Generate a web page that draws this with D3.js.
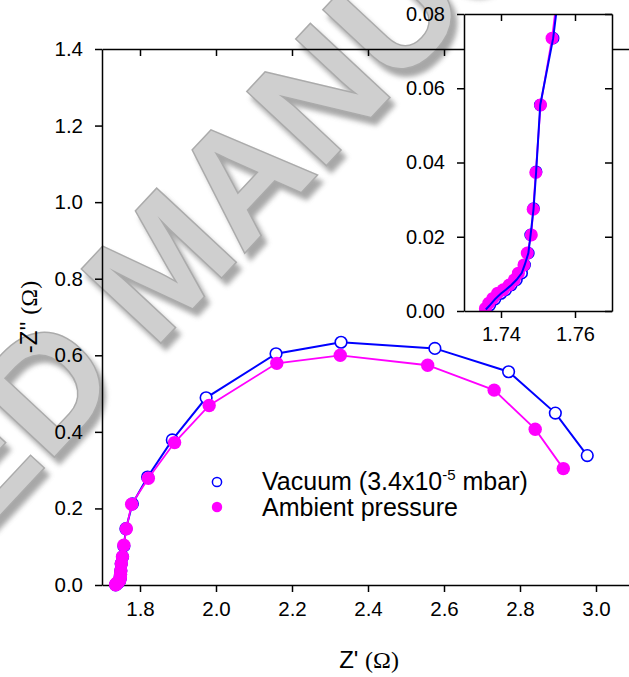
<!DOCTYPE html>
<html><head><meta charset="utf-8">
<script src="https://cdn.jsdelivr.net/npm/d3@7"></script>
<style>
body{margin:0;background:#fff}
svg{display:block}
text{font-family:Arial,"Liberation Sans",sans-serif}
</style>
</head><body>
<svg id="c" width="629" height="677"></svg>
<script>
// ---- data ----
const vacZre = [1.7359,1.7370,1.7384,1.7400,1.7413,1.7428,1.7442,1.7456,1.7464,1.7474,1.7480,1.7488,1.7495,1.7506,1.7541,1.7576,1.763,1.780,1.820,1.885,1.974,2.158,2.329,2.576,2.770,2.893,2.977];
const vacZim = [0.0004,0.0016,0.0032,0.0047,0.0057,0.0070,0.0084,0.0102,0.0124,0.0156,0.0205,0.0276,0.0375,0.0555,0.0735,0.102,0.147,0.212,0.282,0.379,0.489,0.604,0.634,0.618,0.557,0.449,0.338];
const ambZre = [1.7358,1.7367,1.7378,1.7391,1.7406,1.7422,1.7436,1.7447,1.7462,1.7471,1.7482,1.7487,1.7494,1.7507,1.7538,1.7575,1.764,1.778,1.822,1.891,1.982,2.160,2.327,2.557,2.732,2.840,2.914];
const ambZim = [0.0007,0.0021,0.0034,0.0048,0.0057,0.0070,0.0084,0.0102,0.0124,0.0156,0.0205,0.0274,0.0373,0.0555,0.0735,0.104,0.147,0.211,0.279,0.372,0.469,0.579,0.600,0.574,0.509,0.407,0.304];
const mainXTicks = [1.8,2.0,2.2,2.4,2.6,2.8,3.0];
const mainYTicks = [0.0,0.2,0.4,0.6,0.8,1.0,1.2,1.4];
const insetXTicks = [1.74,1.76];
const insetYTicks = [0.00,0.02,0.04,0.06,0.08];
const seriesNames = ["Vacuum (3.4x10", "-5", " mbar)", "Ambient pressure"];
const watermark = "ACCEPTED MANUSCRIPT";

const BLUE = "#0000ff", MAG = "#ff00ff";
const vac = vacZre.map((x,i)=>({x, y:vacZim[i]}));
const amb = ambZre.map((x,i)=>({x, y:ambZim[i]}));

const svg = d3.select("#c");

// watermark (behind everything)
const defs = svg.append("defs");
defs.append("filter").attr("id","blur").append("feGaussianBlur").attr("stdDeviation",2.5);
svg.append("text").text(watermark)
  .attr("transform","translate(206,306) rotate(-47)")
  .attr("text-anchor","middle").attr("font-size",156).attr("font-weight","bold")
  .attr("fill","#8a8a8a").attr("stroke","#8a8a8a").attr("stroke-width",3)
  .attr("filter","url(#blur)").attr("opacity",0.75);
svg.append("text").text(watermark)
  .attr("transform","translate(201,299) rotate(-47)")
  .attr("text-anchor","middle").attr("font-size",156).attr("font-weight","bold")
  .attr("fill","#cfcfcf").attr("stroke","#ababab").attr("stroke-width",3)
  .attr("paint-order","stroke");

// ---- main chart ----
const x = d3.scaleLinear([1.7,3.1],[102,634]);
const y = d3.scaleLinear([0,1.4],[585,49]);

function styleAxis(g, fs){
  g.selectAll("path.domain").attr("stroke","#000").attr("stroke-width",1.5);
  g.selectAll(".tick line").attr("stroke","#000").attr("stroke-width",1.5);
  g.selectAll(".tick text").attr("fill","#000").attr("font-size",fs)
    .attr("font-family","Arial, 'Liberation Sans', sans-serif");
}
const fmt1 = d3.format(".1f"), fmt2 = d3.format(".2f");

svg.append("g").attr("transform","translate(0,585)")
  .call(d3.axisBottom(x).tickValues(mainXTicks).tickFormat(fmt1).tickSize(7).tickSizeOuter(0).tickPadding(9))
  .call(g=>styleAxis(g,20.5));
svg.append("g").attr("transform","translate(0,49)")
  .call(d3.axisBottom(x).tickValues(mainXTicks).tickFormat("").tickSize(7).tickSizeOuter(0))
  .call(g=>styleAxis(g,20));
svg.append("g").attr("transform","translate(102,0)")
  .call(d3.axisLeft(y).tickValues(mainYTicks).tickFormat(fmt1).tickSize(7).tickSizeOuter(0).tickPadding(12))
  .call(g=>styleAxis(g,20.5));

// axis titles
const xt = svg.append("text").attr("x",369).attr("y",668).attr("text-anchor","middle").attr("font-size",24).attr("fill","#000");
xt.append("tspan").text("Z' ");
xt.append("tspan").attr("font-family","'Liberation Serif','Times New Roman',serif").text("(\u03A9)");
const yt = svg.append("text").attr("transform","translate(37,317) rotate(-90)").attr("text-anchor","middle").attr("font-size",24).attr("fill","#000");
yt.append("tspan").text("-Z'' ");
yt.append("tspan").attr("font-family","'Liberation Serif','Times New Roman',serif").text("(\u03A9)");

const lineMain = d3.line().x(d=>x(d.x)).y(d=>y(d.y));
const gm = svg.append("g");
gm.append("path").datum(vac).attr("d",lineMain).attr("fill","none").attr("stroke",BLUE).attr("stroke-width",2);
gm.selectAll("circle.v").data(vac).join("circle").attr("class","v")
  .attr("cx",d=>x(d.x)).attr("cy",d=>y(d.y)).attr("r",5.8)
  .attr("fill","#fff").attr("stroke",BLUE).attr("stroke-width",1.6);
gm.append("path").datum(amb).attr("d",lineMain).attr("fill","none").attr("stroke",MAG).attr("stroke-width",1.8);
gm.selectAll("circle.a").data(amb).join("circle").attr("class","a")
  .attr("cx",d=>x(d.x)).attr("cy",d=>y(d.y)).attr("r",6.7).attr("fill",MAG);

// legend
svg.append("circle").attr("cx",217).attr("cy",482).attr("r",4.6).attr("fill","#fff").attr("stroke",BLUE).attr("stroke-width",1.5);
svg.append("circle").attr("cx",217).attr("cy",507).attr("r",5.2).attr("fill",MAG);
const l1 = svg.append("text").attr("x",262).attr("y",490).attr("font-size",25).attr("fill","#000");
l1.append("tspan").text(seriesNames[0]);
l1.append("tspan").attr("font-size",15).attr("dy",-10).text(seriesNames[1]);
l1.append("tspan").attr("dy",10).text(seriesNames[2]);
svg.append("text").attr("x",262).attr("y",516).attr("font-size",25).attr("fill","#000").text(seriesNames[3]);

// ---- inset ----
const xi = d3.scaleLinear([1.73,1.77],[464,612]);
const yi = d3.scaleLinear([0,0.08],[311,14]);
svg.append("rect").attr("x",464).attr("y",14).attr("width",148).attr("height",297).attr("fill","#fff");
defs.append("clipPath").attr("id","ic").append("rect").attr("x",464).attr("y",14).attr("width",148).attr("height",297);

const lineIn = d3.line().x(d=>xi(d.x)).y(d=>yi(d.y));
const gi = svg.append("g").attr("clip-path","url(#ic)");
gi.selectAll("circle.v").data(vac).join("circle").attr("class","v")
  .attr("cx",d=>xi(d.x)).attr("cy",d=>yi(d.y)).attr("r",5.5)
  .attr("fill","#fff").attr("stroke",BLUE).attr("stroke-width",1.6);
gi.append("path").datum(amb).attr("d",lineIn).attr("fill","none").attr("stroke",MAG).attr("stroke-width",1.8);
gi.selectAll("circle.a").data(amb).join("circle").attr("class","a")
  .attr("cx",d=>xi(d.x)).attr("cy",d=>yi(d.y)).attr("r",6.5).attr("fill",MAG);
gi.append("path").datum(vac).attr("d",lineIn).attr("fill","none").attr("stroke",BLUE).attr("stroke-width",2);

svg.append("g").attr("transform","translate(0,311)")
  .call(d3.axisBottom(xi).tickValues(insetXTicks).tickFormat(fmt2).tickSize(7).tickSizeOuter(0).tickPadding(9))
  .call(g=>styleAxis(g,20));
svg.append("g").attr("transform","translate(0,14)")
  .call(d3.axisBottom(xi).tickValues(insetXTicks).tickFormat("").tickSize(7).tickSizeOuter(0))
  .call(g=>styleAxis(g,20));
svg.append("g").attr("transform","translate(464,0)")
  .call(d3.axisLeft(yi).tickValues(insetYTicks).tickFormat(fmt2).tickSize(7).tickSizeOuter(0).tickPadding(12))
  .call(g=>styleAxis(g,20));
svg.append("g").attr("transform","translate(612,0)")
  .call(d3.axisLeft(yi).tickValues(insetYTicks).tickFormat("").tickSize(7).tickSizeOuter(0))
  .call(g=>styleAxis(g,20));
</script>
</body></html>
